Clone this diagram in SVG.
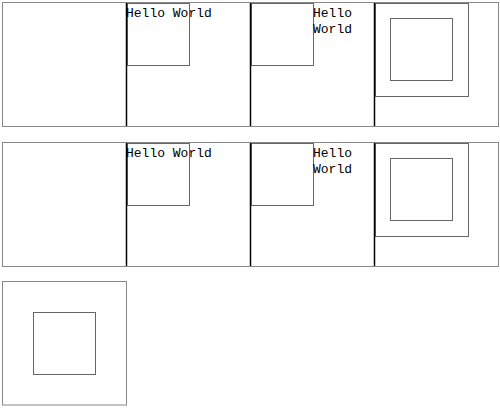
<svg xmlns="http://www.w3.org/2000/svg" width="500" height="408" viewBox="0 0 500 408">
<style>
.frame{fill:none;stroke:#888;stroke-width:1}
.box{fill:none;stroke:#666;stroke-width:1}
.div{stroke:#000;stroke-width:1.5}
.t{font-family:"Liberation Mono","DejaVu Sans Mono",monospace;font-size:13px;fill:#000}
</style>
<rect width="500" height="408" fill="#fff"/>
<g id="row1">
  <rect class="frame" x="2.5" y="2.5" width="496" height="124"/>
  <g id="r1p2">
    <rect class="box" x="127.5" y="3.5" width="62" height="62"/>
    <text class="t" x="126" y="16.5">Hello World</text>
  </g>
  <g id="r1p3">
    <rect class="box" x="251.5" y="3.5" width="62" height="62"/>
    <text class="t" x="313" y="16.5">Hello</text>
    <text class="t" x="313" y="33">World</text>
  </g>
  <g id="r1p4">
    <rect class="box" x="375.5" y="3.5" width="93" height="93"/>
    <rect class="box" x="390.5" y="18.5" width="62" height="62"/>
  </g>
</g>
<g id="row2">
  <rect class="frame" x="2.5" y="142.5" width="496" height="124"/>
  <g id="r2p2">
    <rect class="box" x="127.5" y="143.5" width="62" height="62"/>
    <text class="t" x="126" y="156.5">Hello World</text>
  </g>
  <g id="r2p3">
    <rect class="box" x="251.5" y="143.5" width="62" height="62"/>
    <text class="t" x="313" y="156.5">Hello</text>
    <text class="t" x="313" y="173">World</text>
  </g>
  <g id="r2p4">
    <rect class="box" x="375.5" y="143.5" width="93" height="93"/>
    <rect class="box" x="390.5" y="158.5" width="62" height="62"/>
  </g>
</g>
<g id="row3">
  <rect class="frame" x="2.5" y="281.5" width="124" height="123.5"/>
  <rect class="box" x="33.5" y="312.5" width="62" height="62"/>
</g>
<g id="connectors">
  <line class="div" x1="126.5" y1="3" x2="126.5" y2="126"/>
  <line class="div" x1="250.5" y1="3" x2="250.5" y2="126"/>
  <line class="div" x1="374.5" y1="3" x2="374.5" y2="126"/>
  <line class="div" x1="126.5" y1="143" x2="126.5" y2="266"/>
  <line class="div" x1="250.5" y1="143" x2="250.5" y2="266"/>
  <line class="div" x1="374.5" y1="143" x2="374.5" y2="266"/>
</g>
</svg>
